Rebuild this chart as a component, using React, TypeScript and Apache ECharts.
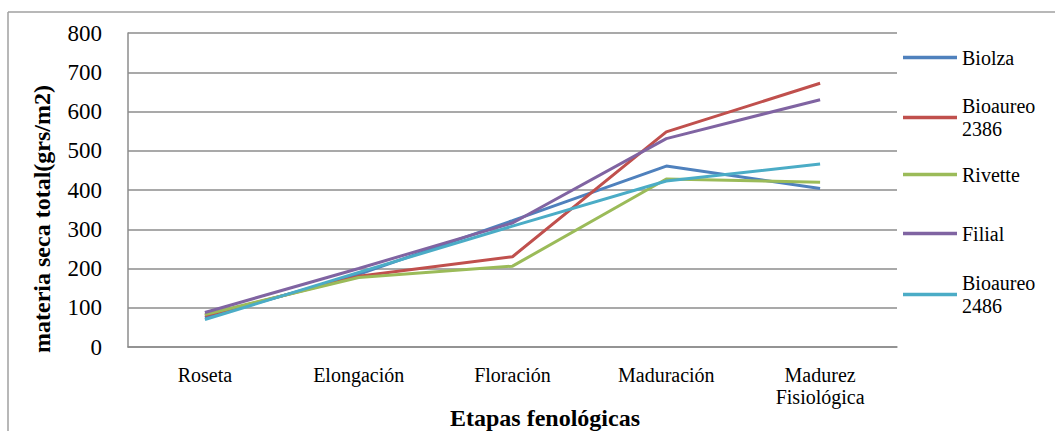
import React, { useEffect, useRef } from "react";
import * as echarts from "echarts";

const categories = ["Roseta", "Elongación", "Floración", "Maduración", "Madurez Fisiológica"];
const seriesNames = ["Biolza", "Bioaureo 2386", "Rivette", "Filial", "Bioaureo 2486"];
const biolza = [75, 185, 322, 461, 404];
const bioaureo2386 = [80, 180, 230, 548, 672];
const rivette = [83, 177, 206, 428, 420];
const filial = [88, 200, 316, 531, 630];
const bioaureo2486 = [70, 190, 308, 423, 466];
const yMin = 0;
const yMax = 800;
const yStep = 100;
const xTitle = "Etapas fenológicas";
const yTitle = "materia seca total(grs/m2)";

const colors = ["#4F81BD", "#C0504D", "#9BBB59", "#8064A2", "#4BACC6"];
const FONT = "Liberation Serif";
const GRID_COLOR = "#8c8c8c";

export default function App() {
  const ref = useRef<HTMLDivElement>(null);
  useEffect(() => {
    if (!ref.current) return;
    const chart = echarts.init(ref.current, undefined, { renderer: "svg" });
    const values = [biolza, bioaureo2386, rivette, filial, bioaureo2486];
    const iconY = [57, 116, 174, 233, 293];
    const legends = seriesNames.map((n, i) => {
      const wrapped = n.includes(" ");
      return {
        data: [{ name: n, icon: "rect", itemStyle: { color: colors[i] } }],
        left: 903,
        top: iconY[i] - (wrapped ? 33 : 11),
        orient: "vertical",
        padding: 0,
        itemWidth: 54,
        itemHeight: 3.5,
        itemGap: 0,
        selectedMode: false,
        formatter: (name: string) => name.replace(" ", "\n"),
        textStyle: {
          fontFamily: FONT,
          fontSize: 20,
          lineHeight: 23,
          color: "#000",
          padding: wrapped ? [23, 0, 0, 0] : 0,
        },
      };
    });
    chart.setOption({
      animation: false,
      backgroundColor: "#fff",
      grid: { left: 128, top: 33, width: 769, height: 314, containLabel: false },
      legend: legends,
      xAxis: {
        type: "category",
        data: categories,
        boundaryGap: true,
        axisLine: { show: true, lineStyle: { color: GRID_COLOR, width: 1.5 } },
        axisTick: { show: false },
        axisLabel: {
          fontFamily: FONT,
          fontSize: 20,
          lineHeight: 22,
          color: "#000",
          margin: 17,
          interval: 0,
          formatter: (v: string) => v.replace(" ", "\n"),
        },
        splitLine: { show: false },
      },
      yAxis: {
        type: "value",
        min: yMin,
        max: yMax,
        interval: yStep,
        axisLine: { show: true, lineStyle: { color: GRID_COLOR, width: 1.5 } },
        axisTick: { show: false },
        axisLabel: { fontFamily: FONT, fontSize: 23, color: "#000", margin: 26 },
        splitLine: { show: true, lineStyle: { color: GRID_COLOR, width: 1.5 } },
      },
      series: seriesNames.map((n, i) => ({
        name: n,
        type: "line",
        data: values[i],
        symbol: "none",
        color: colors[i],
        lineStyle: { color: colors[i], width: 3 },
      })),
      graphic: [
        {
          type: "line",
          shape: { x1: 8, y1: 12, x2: 1055, y2: 12 },
          style: { stroke: "#a0a0a0", lineWidth: 1.5 },
        },
        {
          type: "line",
          shape: { x1: 8, y1: 12, x2: 8, y2: 431 },
          style: { stroke: "#a0a0a0", lineWidth: 1.5 },
        },
        {
          type: "text",
          x: 545,
          y: 418,
          style: {
            text: xTitle,
            font: `bold 24px ${FONT}`,
            fill: "#000",
            align: "center",
            verticalAlign: "middle",
          },
        },
        {
          type: "text",
          x: 42,
          y: 219,
          rotation: Math.PI / 2,
          style: {
            text: yTitle,
            font: `bold 24px ${FONT}`,
            fill: "#000",
            align: "center",
            verticalAlign: "middle",
          },
        },
      ],
    });
    return () => chart.dispose();
  }, []);
  return (
    <div
      ref={ref}
      style={{ position: "fixed", left: 0, top: 0, width: 1055, height: 431 }}
    />
  );
}
